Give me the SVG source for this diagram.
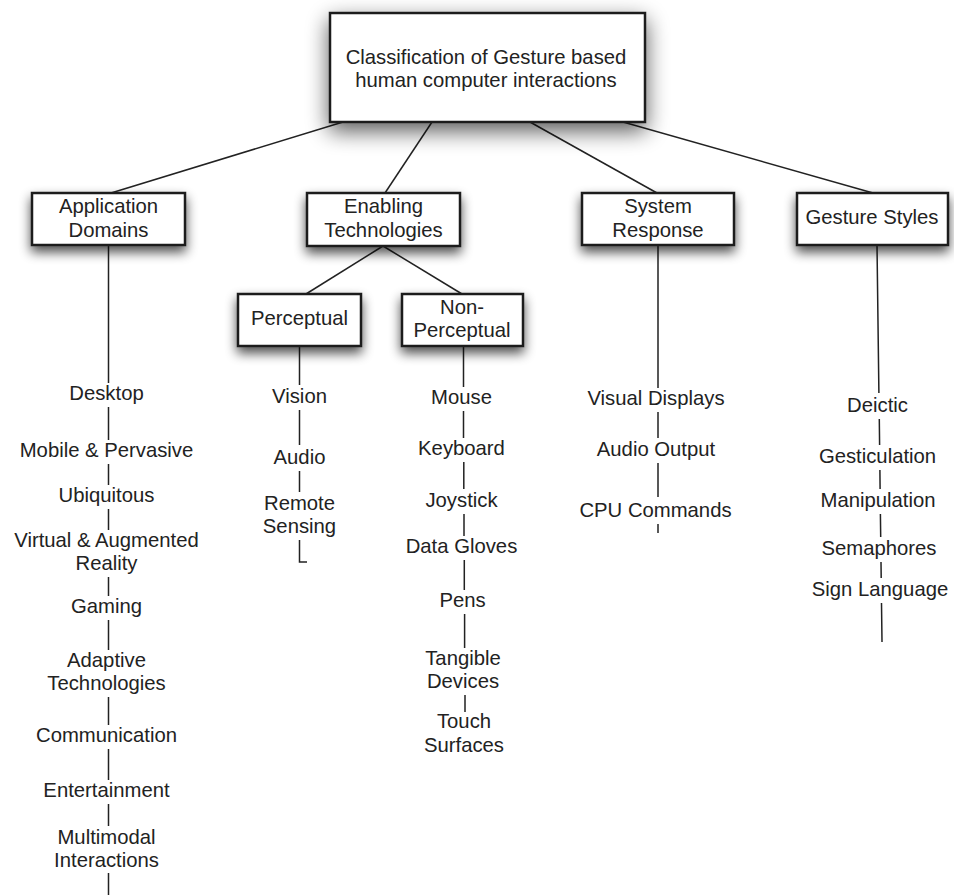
<svg xmlns="http://www.w3.org/2000/svg" width="954" height="895" viewBox="0 0 954 895">
<defs>
<filter id="sh" x="-30%" y="-40%" width="160%" height="200%">
<feGaussianBlur in="SourceAlpha" stdDeviation="6"/>
<feOffset dx="0" dy="6" result="b"/>
<feComponentTransfer><feFuncA type="linear" slope="0.7"/></feComponentTransfer>
<feMerge><feMergeNode/><feMergeNode in="SourceGraphic"/></feMerge>
</filter>
<filter id="shBig" x="-30%" y="-40%" width="160%" height="200%">
<feGaussianBlur in="SourceAlpha" stdDeviation="11"/>
<feOffset dx="0" dy="8" result="b"/>
<feComponentTransfer><feFuncA type="linear" slope="0.65"/></feComponentTransfer>
<feMerge><feMergeNode/><feMergeNode in="SourceGraphic"/></feMerge>
</filter>
</defs>
<style>
.box{fill:#fff;stroke:#1a1a1a;stroke-width:2.5}
.t{font-family:"Liberation Sans",Arial,Helvetica,sans-serif;font-size:20.3px;fill:#222;text-anchor:middle}
.c{stroke:#222;stroke-width:1.5;fill:none}
</style>
<rect width="954" height="895" fill="#fff"/>
<g id="connectors">
<line class="c" x1="343" y1="122" x2="111" y2="193"/>
<line class="c" x1="432" y1="122" x2="385" y2="193"/>
<line class="c" x1="530" y1="122" x2="657" y2="193"/>
<line class="c" x1="623" y1="122" x2="873" y2="193"/>
<line class="c" x1="383" y1="246" x2="306" y2="294"/>
<line class="c" x1="383" y1="246" x2="462" y2="294"/>
<path class="c" d="M108.5 245V383M108.5 407V440M108.5 464V485M108.5 509V530M108.5 577V596M108.5 620V650M108.5 697V725M108.5 749V780M108.5 804V826M108.5 873V895"/>
<path class="c" d="M299.5 346V385M299.5 410V445M299.5 471V492M299.5 540V562H307"/>
<path class="c" d="M463.5 346V387M463.5 411V438M463.8 462V489M464 514V536M464.3 560V590M464.6 614V648M465 695V712"/>
<path class="c" d="M658 245V388M658 412V438M658 463V497M658 524V533"/>
<path class="c" d="M877 245L878.9 393M879.3 419L879.6 445M879.9 470L880.1 489M880.4 514L880.7 537M881 562L881.2 578M881.5 603L882 642"/>
</g>
<g id="root">
<rect class="box" x="330" y="13" width="315" height="109" filter="url(#shBig)"/>
<text class="t" x="486" y="64">Classification of Gesture based</text>
<text class="t" x="486" y="87">human computer interactions</text>
</g>
<g id="application-domains">
<rect class="box" x="32" y="193" width="153" height="52" filter="url(#sh)"/>
<text class="t" x="108.5" y="213">Application</text>
<text class="t" x="108.5" y="237">Domains</text>
</g>
<g id="enabling-technologies">
<rect class="box" x="307" y="193" width="153" height="53" filter="url(#sh)"/>
<text class="t" x="383.5" y="213">Enabling</text>
<text class="t" x="383.5" y="237">Technologies</text>
</g>
<g id="system-response">
<rect class="box" x="582" y="193" width="152" height="52" filter="url(#sh)"/>
<text class="t" x="658" y="213">System</text>
<text class="t" x="658" y="237">Response</text>
</g>
<g id="gesture-styles">
<rect class="box" x="797" y="193" width="151" height="52" filter="url(#sh)"/>
<text class="t" x="872" y="224">Gesture Styles</text>
</g>
<g id="perceptual">
<rect class="box" x="238" y="294" width="123" height="52" filter="url(#sh)"/>
<text class="t" x="299.5" y="325">Perceptual</text>
</g>
<g id="non-perceptual">
<rect class="box" x="402" y="294" width="121" height="52" filter="url(#sh)"/>
<text class="t" x="462" y="314">Non-</text>
<text class="t" x="462" y="337">Perceptual</text>
</g>
<g id="application-items">
<text class="t" x="106.5" y="400">Desktop</text>
<text class="t" x="106.5" y="457">Mobile &amp; Pervasive</text>
<text class="t" x="106.5" y="502">Ubiquitous</text>
<text class="t" x="106.5" y="547">Virtual &amp; Augmented</text>
<text class="t" x="106.5" y="570">Reality</text>
<text class="t" x="106.5" y="613">Gaming</text>
<text class="t" x="106.5" y="667">Adaptive</text>
<text class="t" x="106.5" y="690">Technologies</text>
<text class="t" x="106.5" y="742">Communication</text>
<text class="t" x="106.5" y="797">Entertainment</text>
<text class="t" x="106.5" y="844">Multimodal</text>
<text class="t" x="106.5" y="867">Interactions</text>
</g>
<g id="perceptual-items">
<text class="t" x="299.5" y="403">Vision</text>
<text class="t" x="299.5" y="464">Audio</text>
<text class="t" x="299.5" y="510">Remote</text>
<text class="t" x="299.5" y="533">Sensing</text>
</g>
<g id="non-perceptual-items">
<text class="t" x="461.5" y="404">Mouse</text>
<text class="t" x="461.5" y="455">Keyboard</text>
<text class="t" x="461.5" y="507">Joystick</text>
<text class="t" x="461.5" y="553">Data Gloves</text>
<text class="t" x="462.5" y="607">Pens</text>
<text class="t" x="463" y="665">Tangible</text>
<text class="t" x="463" y="688">Devices</text>
<text class="t" x="464" y="728">Touch</text>
<text class="t" x="464" y="752">Surfaces</text>
</g>
<g id="system-response-items">
<text class="t" x="656" y="405">Visual Displays</text>
<text class="t" x="656" y="456">Audio Output</text>
<text class="t" x="655.5" y="517">CPU Commands</text>
</g>
<g id="gesture-styles-items">
<text class="t" x="877.5" y="412">Deictic</text>
<text class="t" x="877.5" y="463">Gesticulation</text>
<text class="t" x="878" y="507">Manipulation</text>
<text class="t" x="879" y="555">Semaphores</text>
<text class="t" x="880" y="596">Sign Language</text>
</g>
</svg>
